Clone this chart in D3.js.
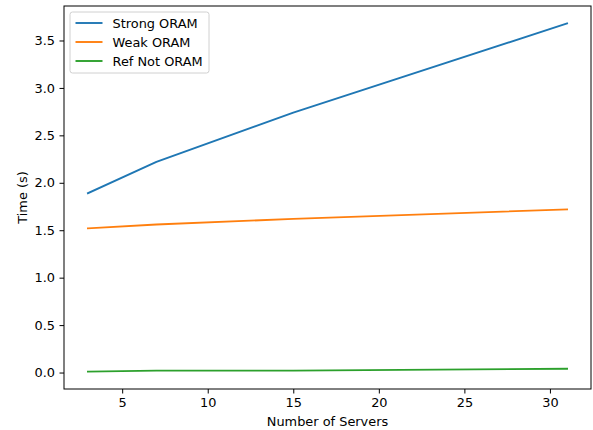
<!DOCTYPE html>
<html>
<head>
<meta charset="utf-8">
<style>
  body { margin: 0; background: #fff; }
  svg { display: block; font-family: "DejaVu Sans", sans-serif; }
</style>
</head>
<body>
<svg id="chart" width="593" height="430" viewBox="0 0 593 430" xmlns="http://www.w3.org/2000/svg"></svg>
<script src="https://d3js.org/d3.v7.min.js"></script>
<script>
// data
const servers = [3, 7, 15, 31];
const strongOram = [1.89, 2.22, 2.74, 3.68];
const weakOram = [1.52, 1.56, 1.62, 1.72];
const refNotOram = [0.01, 0.02, 0.02, 0.04];
const seriesNames = ["Strong ORAM", "Weak ORAM", "Ref Not ORAM"];
const xTicks = [5, 10, 15, 20, 25, 30];
const yTicks = [0.0, 0.5, 1.0, 1.5, 2.0, 2.5, 3.0, 3.5];

const series = [
  { name: seriesNames[0], values: strongOram, color: "#1f77b4" },
  { name: seriesNames[1], values: weakOram, color: "#ff7f0e" },
  { name: seriesNames[2], values: refNotOram, color: "#2ca02c" }
];

const width = 593, height = 430;
const margin = { top: 6, right: 2, bottom: 41, left: 64 };
const fontSize = 12.9;

const svg = d3.select("#chart");

// matplotlib style 5% padding around the data
const xMin = d3.min(servers), xMax = d3.max(servers);
const xPad = (xMax - xMin) * 0.05;
const allY = series.flatMap(s => s.values);
const yMin = d3.min(allY), yMax = d3.max(allY);
const yPad = (yMax - yMin) * 0.05;

const x = d3.scaleLinear()
  .domain([xMin - xPad, xMax + xPad])
  .range([margin.left, width - margin.right]);

const y = d3.scaleLinear()
  .domain([yMin - yPad, yMax + yPad])
  .range([height - margin.bottom, margin.top]);

// lines
const line = d3.line()
  .x((d, i) => x(servers[i]))
  .y(d => y(d));

series.forEach(s => {
  svg.append("path")
    .datum(s.values)
    .attr("d", line)
    .attr("fill", "none")
    .attr("stroke", s.color)
    .attr("stroke-width", 1.9)
    .attr("stroke-linejoin", "round")
    .attr("stroke-linecap", "square");
});

// axes
const xAxis = svg.append("g")
  .attr("transform", `translate(0,${height - margin.bottom})`)
  .call(d3.axisBottom(x).tickValues(xTicks).tickSize(4.5).tickPadding(4.5).tickFormat(d3.format("d")));

const yAxis = svg.append("g")
  .attr("transform", `translate(${margin.left},0)`)
  .call(d3.axisLeft(y).tickValues(yTicks).tickSize(4.5).tickPadding(4.5).tickFormat(d3.format(".1f")));

[xAxis, yAxis].forEach(g => {
  g.select(".domain").remove();
  g.selectAll(".tick line").attr("stroke", "#000").attr("stroke-width", 1);
  g.selectAll(".tick text")
    .attr("fill", "#000")
    .attr("font-size", fontSize)
    .attr("font-family", "DejaVu Sans, sans-serif");
});

// frame (spines)
svg.append("rect")
  .attr("x", margin.left)
  .attr("y", margin.top)
  .attr("width", width - margin.left - margin.right)
  .attr("height", height - margin.top - margin.bottom)
  .attr("fill", "none")
  .attr("stroke", "#000")
  .attr("stroke-width", 1);

// axis labels
svg.append("text")
  .attr("x", (margin.left + width - margin.right) / 2)
  .attr("y", 426)
  .attr("text-anchor", "middle")
  .attr("font-size", fontSize)
  .text("Number of Servers");

svg.append("text")
  .attr("transform", `translate(27,${(margin.top + height - margin.bottom) / 2}) rotate(-90)`)
  .attr("text-anchor", "middle")
  .attr("font-size", fontSize)
  .text("Time (s)");

// legend
const legend = svg.append("g").attr("transform", "translate(70,12)");
legend.append("rect")
  .attr("width", 139)
  .attr("height", 61)
  .attr("rx", 2.5)
  .attr("fill", "#fff")
  .attr("fill-opacity", 0.8)
  .attr("stroke", "#d0d0d0")
  .attr("stroke-width", 1);

series.forEach((s, i) => {
  const ly = 11 + i * 19;
  legend.append("line")
    .attr("x1", 5.5)
    .attr("x2", 32.5)
    .attr("y1", ly)
    .attr("y2", ly)
    .attr("stroke", s.color)
    .attr("stroke-width", 1.9);
  legend.append("text")
    .attr("x", 42.5)
    .attr("y", ly + 4.6)
    .attr("font-size", fontSize)
    .text(s.name);
});
</script>
</body>
</html>
